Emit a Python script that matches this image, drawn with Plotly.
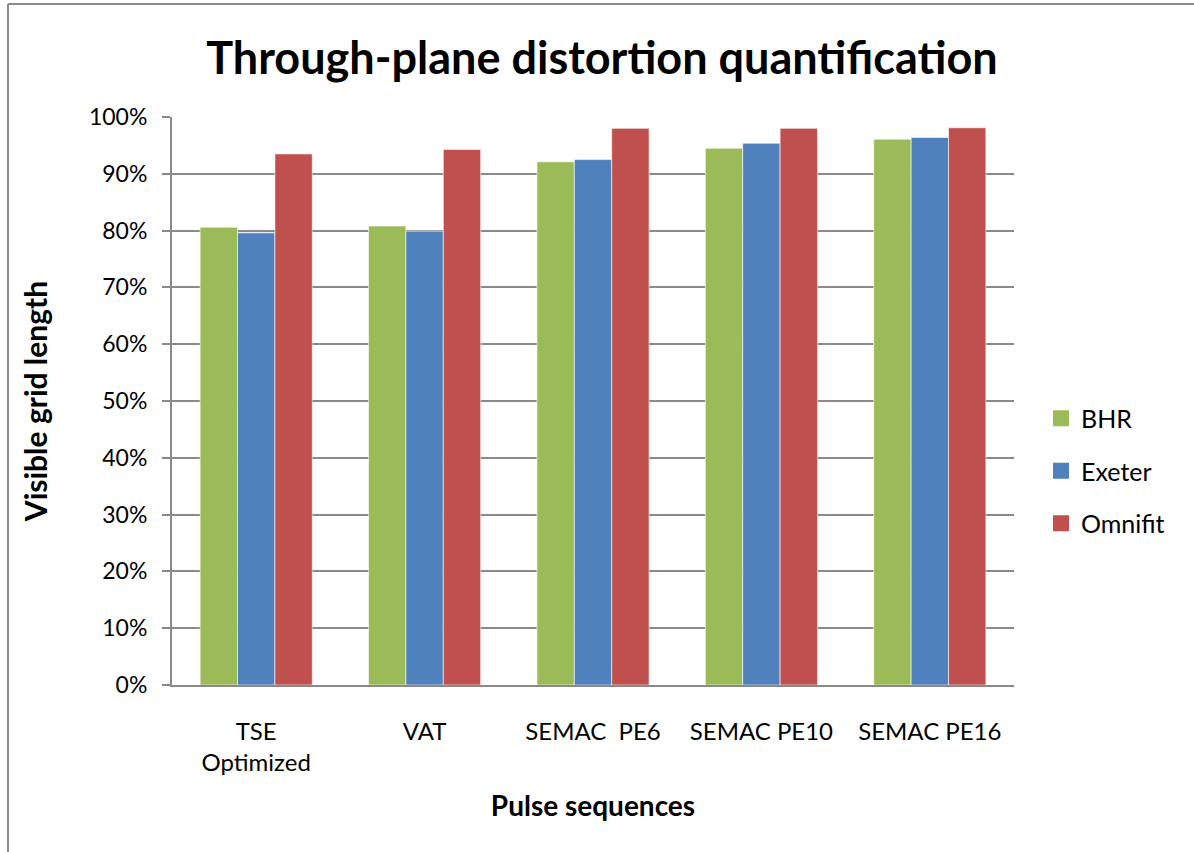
import plotly.graph_objects as go

# Pulse sequences tested and visible grid length (%) per implant
categories = ["TSE<br>Optimized", "VAT", "SEMAC  PE6", "SEMAC PE10", "SEMAC PE16"]
bhr = [80.6, 80.8, 92.1, 94.5, 96.1]
exeter = [79.6, 79.9, 92.5, 95.4, 96.4]
omnifit = [93.5, 94.3, 98.0, 98.0, 98.1]

series_names = ["BHR", "Exeter", "Omnifit"]
series_colors = ["#9BBB59", "#4F81BD", "#C0504D"]
y_ticks = [0, 10, 20, 30, 40, 50, 60, 70, 80, 90, 100]

FONT = "Lato"
W, H = 1194, 852
ML, MR, MT, MB = 172, 180, 117, 167

fig = go.Figure()
for name, vals, col in zip(series_names, [bhr, exeter, omnifit], series_colors):
    fig.add_trace(go.Bar(
        name=name, x=categories, y=vals, showlegend=False,
        marker=dict(color=col, line=dict(color="rgba(255,255,255,0.6)", width=1)),
    ))
# legend keys drawn as larger square markers
for i, (name, col) in enumerate(zip(series_names, series_colors)):
    fig.add_trace(go.Scatter(
        name=name, x=[None], y=[None], mode="markers", legendgroup=f"g{i}",
        marker=dict(symbol="square", size=16, color=col),
    ))

# outer chart frame (left and top edges)
pw, ph = W - ML - MR, H - MT - MB
fx0 = (8 - ML) / pw
fy1 = 1 + (MT - 4) / ph
fy0 = -(MB + 10) / ph
fig.add_shape(type="line", xref="paper", yref="paper", x0=fx0, x1=fx0, y0=fy0, y1=fy1,
              line=dict(color="#8a8a8a", width=2))
fig.add_shape(type="line", xref="paper", yref="paper", x0=fx0, x1=(W + 10 - ML) / pw, y0=fy1, y1=fy1,
              line=dict(color="#8a8a8a", width=2))

fig.update_layout(
    width=W, height=H,
    margin=dict(l=ML, r=MR, t=MT, b=MB),
    paper_bgcolor="white", plot_bgcolor="white",
    barmode="group", bargap=0.334, bargroupgap=0,
    font=dict(family=FONT, color="black", size=22),
    title=dict(text="<b>Through-plane distortion quantification</b>",
               x=602 / W, xref="container", xanchor="center", y=1 - 58 / H, yanchor="middle",
               font=dict(size=45, family=FONT)),
    legend=dict(x=(1041 - ML) / pw, xanchor="left", y=1 - (471 - MT) / ph, yanchor="middle",
                font=dict(size=25), itemwidth=30, tracegroupgap=17, traceorder="grouped",
                bgcolor="rgba(0,0,0,0)"),
    xaxis=dict(showline=True, linecolor="#8a8a8a", linewidth=2,
               ticks="", tickfont=dict(size=24), ticklabelstandoff=24,
               title=dict(text="<b>Pulse sequences</b>", font=dict(size=28), standoff=21)),
    yaxis=dict(range=[0, 100], tickvals=y_ticks, ticktext=[f"{v}%" for v in y_ticks],
               showline=True, linecolor="#8a8a8a", linewidth=2,
               showgrid=True, gridcolor="#8a8a8a", gridwidth=2,
               ticks="outside", ticklen=8, tickcolor="#8a8a8a", tickwidth=2,
               tickfont=dict(size=23), ticklabelstandoff=10, zeroline=False,
               title=dict(text="<b>Visible grid length</b>", font=dict(size=30), standoff=32)),
)

fig.write_html("out.html")
